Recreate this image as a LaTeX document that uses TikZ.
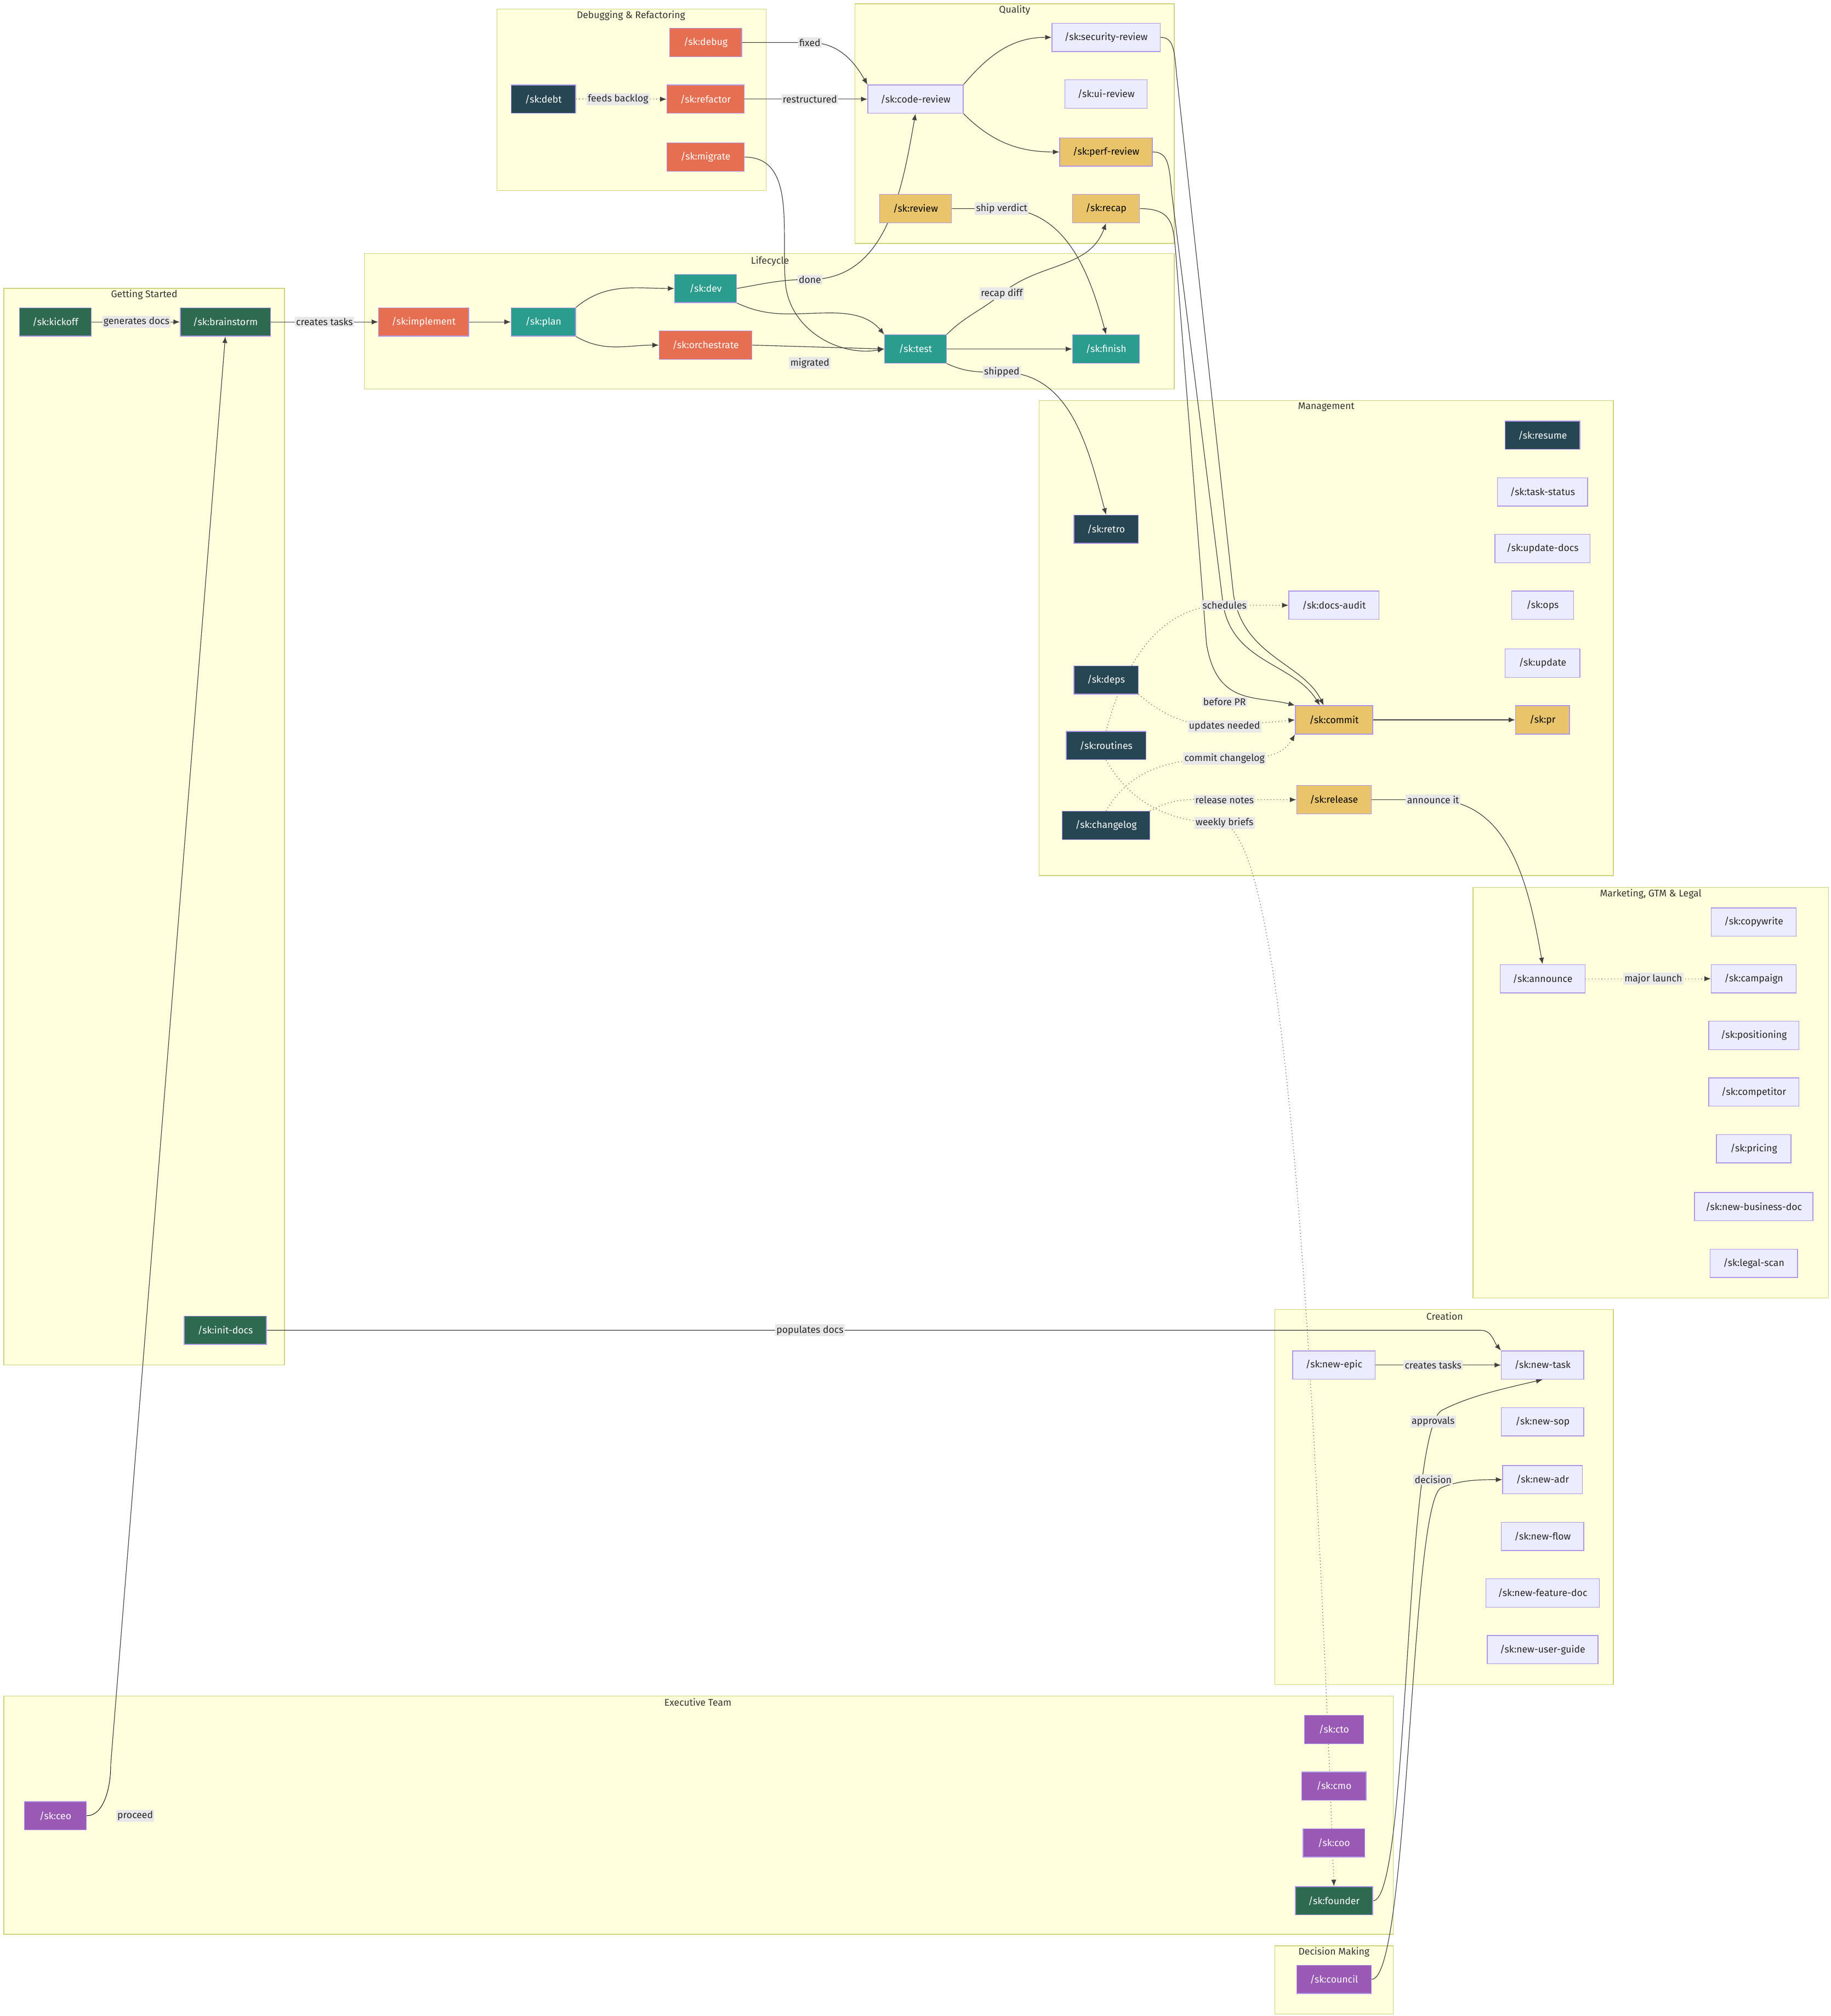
\documentclass[tikz,border=0pt]{standalone}
\usepackage{fontspec}
\setmainfont{Fira Sans}
\usetikzlibrary{arrows.meta}
\pgfdeclarelayer{bg}\pgfdeclarelayer{edges}
\pgfsetlayers{bg,edges,main}
\definecolor{bord}{RGB}{176,150,230}
\begin{document}
\begin{tikzpicture}[x=1pt,y=-1pt,font=\fontsize{7.5}{9}\selectfont,
 cl/.style={draw={rgb,255:red,210;green,210;blue,120},fill={rgb,255:red,255;green,255;blue,222},line width=0.6pt},
 ct/.style={font=\fontsize{7.5}{9}\selectfont,text=black!80},
 nd/.style={minimum height=22pt,inner xsep=2pt,line width=0.6pt,draw=bord},
 red/.style={nd,fill={rgb,255:red,231;green,111;blue,81},text=white},
 dk/.style={nd,fill={rgb,255:red,38;green,70;blue,83},text=white},
 tl/.style={nd,fill={rgb,255:red,42;green,157;blue,143},text=white},
 gd/.style={nd,fill={rgb,255:red,233;green,196;blue,106},text=black},
 gr/.style={nd,fill={rgb,255:red,45;green,106;blue,79},text=white},
 pp/.style={nd,fill={rgb,255:red,155;green,89;blue,182},text=white},
 lv/.style={nd,fill={rgb,255:red,236;green,236;blue,255},text=black!85},
 e/.style={draw=black!75,line width=0.5pt,-{Latex[length=5pt,width=4pt]}},
 ed/.style={e,dotted},
 lb/.style={fill=black!9,inner sep=1pt,text=black!85}]
\useasboundingbox (0,0) rectangle (1422,1565.5);
\begin{pgfonlayer}{bg}
\draw[cl] (386,7) rectangle (595,148); \node[ct] at (490,12) {Debugging \& Refactoring};
\draw[cl] (664,3) rectangle (912,189); \node[ct] at (788,8) {Quality};
\draw[cl] (283,197) rectangle (912,302); \node[ct] at (598,203) {Lifecycle};
\draw[cl] (3,224) rectangle (221,1060); \node[ct] at (112,229) {Getting Started};
\draw[cl] (807,311) rectangle (1253,680); \node[ct] at (1030,316) {Management};
\draw[cl] (1144,689) rectangle (1420,1008); \node[ct] at (1282,694) {Marketing, GTM \& Legal};
\draw[cl] (990,1017) rectangle (1253,1308); \node[ct] at (1122,1022) {Creation};
\draw[cl] (3,1317) rectangle (1082,1502); \node[ct] at (542,1322) {Executive Team};
\draw[cl] (990,1511) rectangle (1082,1564); \node[ct] at (1036,1516) {Decision Making};
\end{pgfonlayer}
% nodes
\node[red,minimum width=56pt] (debug) at (548,33) {/sk:debug};
\node[dk,minimum width=50pt] (debt) at (422,77) {/sk:debt};
\node[red,minimum width=60pt] (refactor) at (548,77) {/sk:refactor};
\node[red,minimum width=60pt] (migrate) at (548,122) {/sk:migrate};
\node[lv,minimum width=74pt] (codereview) at (711,77) {/sk:code-review};
\node[lv,minimum width=84pt] (security) at (859,29) {/sk:security-review};
\node[lv,minimum width=64pt] (ui) at (859,73) {/sk:ui-review};
\node[gd,minimum width=72pt] (perf) at (859,118) {/sk:perf-review};
\node[gd,minimum width=56pt] (review) at (711,162) {/sk:review};
\node[gd,minimum width=52pt] (recap) at (859,162) {/sk:recap};
\node[gr,minimum width=56pt] (kickoff) at (43,250) {/sk:kickoff};
\node[gr,minimum width=70pt] (brainstorm) at (175,250) {/sk:brainstorm};
\node[red,minimum width=70pt] (implement) at (329,250) {/sk:implement};
\node[tl,minimum width=50pt] (plan) at (422,250) {/sk:plan};
\node[tl,minimum width=48pt] (dev) at (548,224) {/sk:dev};
\node[red,minimum width=72pt] (orch) at (548,268) {/sk:orchestrate};
\node[tl,minimum width=48pt] (test) at (711,271) {/sk:test};
\node[tl,minimum width=52pt] (finish) at (859,271) {/sk:finish};
\node[dk,minimum width=58pt] (resume) at (1198,338) {/sk:resume};
\node[lv,minimum width=70pt] (taskstatus) at (1198,382) {/sk:task-status};
\node[lv,minimum width=74pt] (updatedocs) at (1198,426) {/sk:update-docs};
\node[lv,minimum width=48pt] (ops) at (1198,470) {/sk:ops};
\node[lv,minimum width=58pt] (update) at (1198,515) {/sk:update};
\node[gd,minimum width=42pt] (pr) at (1198,559) {/sk:pr};
\node[dk,minimum width=50pt] (retro) at (859,411) {/sk:retro};
\node[lv,minimum width=70pt] (docsaudit) at (1036,470) {/sk:docs-audit};
\node[dk,minimum width=50pt] (deps) at (859,528) {/sk:deps};
\node[dk,minimum width=62pt] (routines) at (859,579) {/sk:routines};
\node[dk,minimum width=68pt] (changelog) at (859,641) {/sk:changelog};
\node[gd,minimum width=60pt] (commit) at (1036,559) {/sk:commit};
\node[gd,minimum width=58pt] (release) at (1036,621) {/sk:release};
\node[lv,minimum width=66pt] (copywrite) at (1362,716) {/sk:copywrite};
\node[lv,minimum width=66pt] (announce) at (1198,760) {/sk:announce};
\node[lv,minimum width=66pt] (campaign) at (1362,760) {/sk:campaign};
\node[lv,minimum width=70pt] (positioning) at (1362,804) {/sk:positioning};
\node[lv,minimum width=70pt] (competitor) at (1362,848) {/sk:competitor};
\node[lv,minimum width=58pt] (pricing) at (1362,892) {/sk:pricing};
\node[lv,minimum width=92pt] (nbd) at (1362,937) {/sk:new-business-doc};
\node[lv,minimum width=68pt] (legal) at (1362,981) {/sk:legal-scan};
\node[gr,minimum width=64pt] (initdocs) at (175,1033) {/sk:init-docs};
\node[lv,minimum width=64pt] (newepic) at (1036,1060) {/sk:new-epic};
\node[lv,minimum width=64pt] (newtask) at (1198,1060) {/sk:new-task};
\node[lv,minimum width=64pt] (newsop) at (1198,1104) {/sk:new-sop};
\node[lv,minimum width=62pt] (newadr) at (1198,1149) {/sk:new-adr};
\node[lv,minimum width=64pt] (newflow) at (1198,1193) {/sk:new-flow};
\node[lv,minimum width=88pt] (nfd) at (1198,1237) {/sk:new-feature-doc};
\node[lv,minimum width=86pt] (nug) at (1198,1281) {/sk:new-user-guide};
\node[pp,minimum width=46pt] (cto) at (1036,1343) {/sk:cto};
\node[pp,minimum width=50pt] (cmo) at (1036,1387) {/sk:cmo};
\node[pp,minimum width=48pt] (coo) at (1036,1431) {/sk:coo};
\node[gr,minimum width=60pt] (founder) at (1036,1476) {/sk:founder};
\node[pp,minimum width=48pt] (ceo) at (43,1410) {/sk:ceo};
\node[pp,minimum width=58pt] (council) at (1036,1537) {/sk:council};
% label anchors
\coordinate (c1) at (629,33); \coordinate (c4) at (629,217); \coordinate (c6) at (778,162);
\coordinate (c7) at (778,228); \coordinate (c8) at (778,289); \coordinate (c11) at (951,470);
\coordinate (c13) at (951,564); \coordinate (c14) at (951,589); \coordinate (c15) at (951,621);
\coordinate (c16) at (951,639); \coordinate (c17) at (1113,621); \coordinate (c19) at (629,1033);
\coordinate (k1) at (86,1370);
\coordinate (s1) at (914,60); \coordinate (s2) at (958,462);
\coordinate (p1) at (910,150); \coordinate (p2) at (950,470);
\coordinate (r1) at (913,195); \coordinate (r2) at (937,500);
\begin{pgfonlayer}{edges}
\draw[e] (debug.east) -- (c1) to[out=0,in=120] (codereview.north west);
\draw[ed] (debt) -- (refactor);
\draw[e] (refactor) -- (codereview);
\draw[e] (migrate.east) to[out=0,in=95] (610,220) to[out=-85,in=190] (test.west);
\draw[e] (codereview.north east) to[out=50,in=180] (security.west);
\draw[e] (codereview.south east) to[out=-45,in=180] (perf.west);
\draw[e] (dev.east) to[out=10,in=180] (c4) to[out=0,in=-100] (codereview.south);
\draw[e] (review.east) -- (c6) to[out=0,in=105] (finish.north);
\draw[e] (kickoff) -- (brainstorm);
\draw[e] (brainstorm) -- (implement);
\draw[e] (implement) -- (plan);
\draw[e] (plan.north east) to[out=40,in=180] (dev.west);
\draw[e] (plan.south east) to[out=-30,in=180] (orch.west);
\draw[e] (dev.south east) to[out=-25,in=180] (645,243) to[out=0,in=130] (test.north west);
\draw[e] (orch.east) -- (test.west);
\draw[e] (test) -- (finish);
\draw[e] (test.north east) to[out=45,in=220] (c7) to[out=40,in=-110] (recap.south);
\draw[e] (test.south east) to[out=-25,in=180] (c8) to[out=0,in=105] (retro.north);
\draw[e] (security.east) .. controls (912,29) and (912,40) .. (s1) -- (s2) .. controls (966,510) and (1012,515) .. ([xshift=-8pt]commit.north);
\draw[e] (perf.east) .. controls (908,118) and (908,130) .. (p1) -- (p2) .. controls (958,515) and (1005,515) .. ([xshift=-11pt]commit.north);
\draw[e] (recap.east) .. controls (911,162) and (911,175) .. (r1) -- (r2) .. controls (945,548) and (975,540) .. (commit.north west);
\draw[e] (commit) -- (pr);
\draw[ed] (routines.north) to[out=75,in=180] (c11) -- (docsaudit.west);
\draw[ed] (deps.south east) to[out=-40,in=180] (c13) -- (commit.west);
\draw[ed] (changelog.north) to[out=60,in=180] (c14) to[out=0,in=-120] (commit.south west);
\draw[ed] (changelog.north east) to[out=30,in=180] (c15) -- (release.west);
\draw[ed] (routines.south) to[out=-60,in=180] (c16) .. controls (990,660) and (1015,900) .. (founder.north);
\draw[e] (release.east) -- (c17) to[out=0,in=100] (announce.north);
\draw[ed] (announce) -- (campaign);
\draw[e] (initdocs.east) -- (c19) -- (1150,1033) to[out=0,in=130] (newtask.north west);
\draw[e] (newepic) -- (newtask);
\draw[e] (founder.east) .. controls (1095,1476) and (1090,1110) .. (1120,1095) .. controls (1140,1085) and (1160,1080) .. (newtask.south);
\draw[e] (council.east) .. controls (1095,1537) and (1095,1160) .. (1120,1155) .. controls (1135,1149) and (1150,1149) .. (newadr.west);
\draw (ceo.east) .. controls (80,1410) and (86,1390) .. (k1);
\draw[e] (k1) -- (brainstorm.south);
\end{pgfonlayer}
% labels
\node[lb] (l1) at (c1) {fixed};
\node[lb] (l2) at (480,77) {feeds backlog};
\node[lb] (l3) at (629,77) {restructured};
\node[lb] (l4) at (c4) {done};
\node[lb] (l5) at (629,282) {migrated};
\node[lb] (l6) at (c6) {ship verdict};
\node[lb] (l7) at (c7) {recap diff};
\node[lb] (l8) at (c8) {shipped};
\node[lb] (l9) at (106,250) {generates docs};
\node[lb] (l10) at (252,250) {creates tasks};
\node[lb] (l11) at (c11) {schedules};
\node[lb] (l12) at (951,545) {before PR};
\node[lb] (l13) at (c13) {updates needed};
\node[lb] (l14) at (c14) {commit changelog};
\node[lb] (l15) at (c15) {release notes};
\node[lb] (l16) at (c16) {weekly briefs};
\node[lb] (l17) at (c17) {announce it};
\node[lb] (l18) at (1284,760) {major launch};
\node[lb] (l19) at (c19) {populates docs};
\node[lb] (l20) at (1113,1060) {creates tasks};
\node[lb] (l21) at (1113,1104) {approvals};
\node[lb] (l22) at (1113,1149) {decision};
\node[lb] (l23) at (105,1410) {proceed};
\end{tikzpicture}
\end{document}
